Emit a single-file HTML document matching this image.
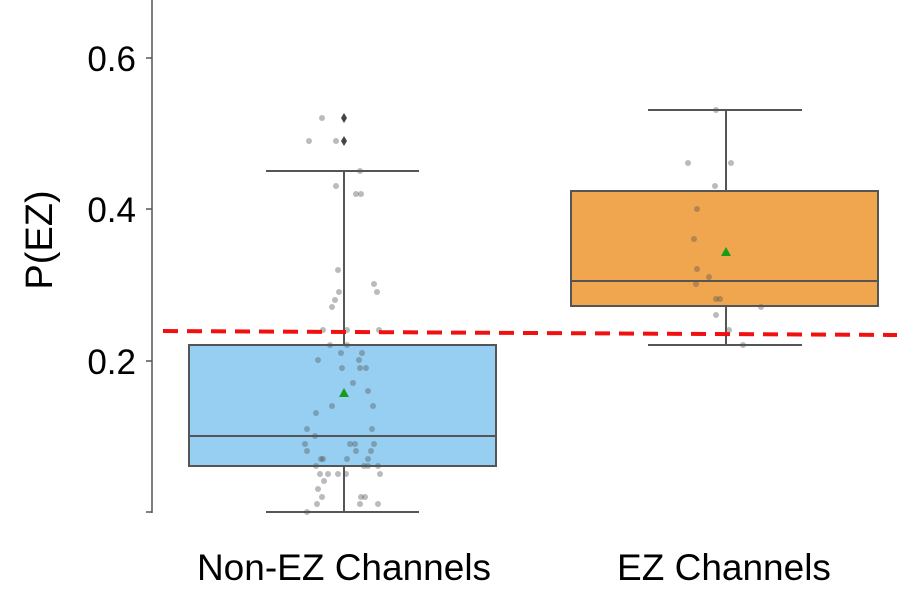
<!DOCTYPE html>
<html><head><meta charset="utf-8"><style>body{margin:0;background:#fff}svg{display:block}</style></head><body>
<svg width="905" height="612" viewBox="0 0 905 612" xmlns="http://www.w3.org/2000/svg" font-family="Liberation Sans, sans-serif">
<line x1="152" y1="0" x2="152" y2="513" stroke="#555" stroke-width="1.5"/>
<g stroke="#555" stroke-width="1.5"><line x1="146" y1="58" x2="152" y2="58"/><line x1="146" y1="209" x2="152" y2="209"/><line x1="146" y1="361" x2="152" y2="361"/><line x1="146" y1="512" x2="152" y2="512"/></g>
<g font-size="35" fill="#000" text-anchor="end"><text x="136" y="71">0.6</text><text x="136" y="222">0.4</text><text x="136" y="374">0.2</text></g>
<text transform="translate(52,240) rotate(-90)" font-size="38" text-anchor="middle">P(EZ)</text>
<g font-size="37" text-anchor="middle"><text x="344" y="580">Non-EZ Channels</text><text x="724" y="580">EZ Channels</text></g>
<g stroke="#555" stroke-width="2" fill="none">
<line x1="344" y1="171" x2="344" y2="345"/><line x1="344" y1="466" x2="344" y2="512"/>
<line x1="266" y1="171" x2="419" y2="171"/><line x1="266" y1="512" x2="419" y2="512"/>
<rect x="189" y="345" width="307" height="121" fill="#96cff2"/>
<line x1="189" y1="436" x2="496" y2="436"/>
<line x1="726" y1="110" x2="726" y2="191"/><line x1="726" y1="306" x2="726" y2="345"/>
<line x1="648" y1="110" x2="802" y2="110"/><line x1="648" y1="345" x2="802" y2="345"/>
<rect x="571" y="191" width="307" height="115" fill="#f0a64f"/>
<line x1="571" y1="281" x2="878" y2="281"/>
</g>
<g fill="#555" fill-opacity="0.4">
<circle cx="322" cy="118" r="3"/><circle cx="309" cy="141" r="3"/><circle cx="336" cy="141" r="3"/><circle cx="360" cy="171" r="3"/><circle cx="336" cy="186" r="3"/><circle cx="356" cy="194" r="3"/><circle cx="361" cy="194" r="3"/>
<circle cx="338" cy="270" r="3"/><circle cx="374" cy="284" r="3"/><circle cx="377" cy="292" r="3"/><circle cx="339" cy="292" r="3"/><circle cx="335" cy="300" r="3"/><circle cx="332" cy="307" r="3"/>
<circle cx="323" cy="330" r="3"/><circle cx="347" cy="330" r="3"/><circle cx="379" cy="330" r="3"/>
<circle cx="330" cy="345" r="3"/><circle cx="347" cy="345" r="3"/><circle cx="341" cy="353" r="3"/><circle cx="362" cy="353" r="3"/><circle cx="318" cy="360" r="3"/><circle cx="359" cy="360" r="3"/><circle cx="342" cy="368" r="3"/><circle cx="360" cy="368" r="3"/><circle cx="366" cy="368" r="3"/>
<circle cx="353" cy="383" r="3"/><circle cx="368" cy="391" r="3"/><circle cx="332" cy="406" r="3"/><circle cx="373" cy="406" r="3"/><circle cx="316" cy="413" r="3"/>
<circle cx="307" cy="429" r="3"/><circle cx="372" cy="429" r="3"/><circle cx="315" cy="436" r="3"/><circle cx="305" cy="444" r="3"/><circle cx="350" cy="444" r="3"/><circle cx="355" cy="444" r="3"/><circle cx="374" cy="444" r="3"/><circle cx="307" cy="451" r="3"/><circle cx="356" cy="451" r="3"/><circle cx="371" cy="451" r="3"/>
<circle cx="321" cy="459" r="3"/><circle cx="323" cy="459" r="3"/><circle cx="347" cy="459" r="3"/><circle cx="368" cy="459" r="3"/>
<circle cx="316" cy="466" r="3"/><circle cx="364" cy="466" r="3"/><circle cx="368" cy="466" r="3"/><circle cx="378" cy="466" r="3"/>
<circle cx="320" cy="474" r="3"/><circle cx="328" cy="474" r="3"/><circle cx="338" cy="474" r="3"/><circle cx="346" cy="474" r="3"/><circle cx="380" cy="474" r="3"/>
<circle cx="324" cy="481" r="3"/><circle cx="318" cy="489" r="3"/><circle cx="322" cy="497" r="3"/><circle cx="361" cy="497" r="3"/><circle cx="365" cy="497" r="3"/><circle cx="317" cy="504" r="3"/><circle cx="360" cy="504" r="3"/><circle cx="378" cy="504" r="3"/><circle cx="307" cy="512" r="3"/>
<circle cx="716" cy="110" r="3"/><circle cx="688" cy="163" r="3"/><circle cx="731" cy="163" r="3"/><circle cx="715" cy="186" r="3"/><circle cx="697" cy="209" r="3"/><circle cx="694" cy="239" r="3"/><circle cx="697" cy="269" r="3"/><circle cx="709" cy="277" r="3"/><circle cx="696" cy="284" r="3"/>
<circle cx="716" cy="299" r="3"/><circle cx="720" cy="299" r="3"/><circle cx="761" cy="307" r="3"/><circle cx="716" cy="315" r="3"/><circle cx="729" cy="330" r="3"/><circle cx="743" cy="345" r="3"/>
</g>
<g fill="#444"><path d="M344 113l3 5-3 5-3-5z"/><path d="M344 136l3 5-3 5-3-5z"/></g>
<polygon points="344,388 349,397 339,397" fill="#1a9c1a"/>
<polygon points="726,247 731,256 721,256" fill="#1a9c1a"/>
<line x1="163" y1="331" x2="897" y2="335" stroke="#f01010" stroke-width="4" stroke-dasharray="15,9"/>
</svg>
</body></html>
